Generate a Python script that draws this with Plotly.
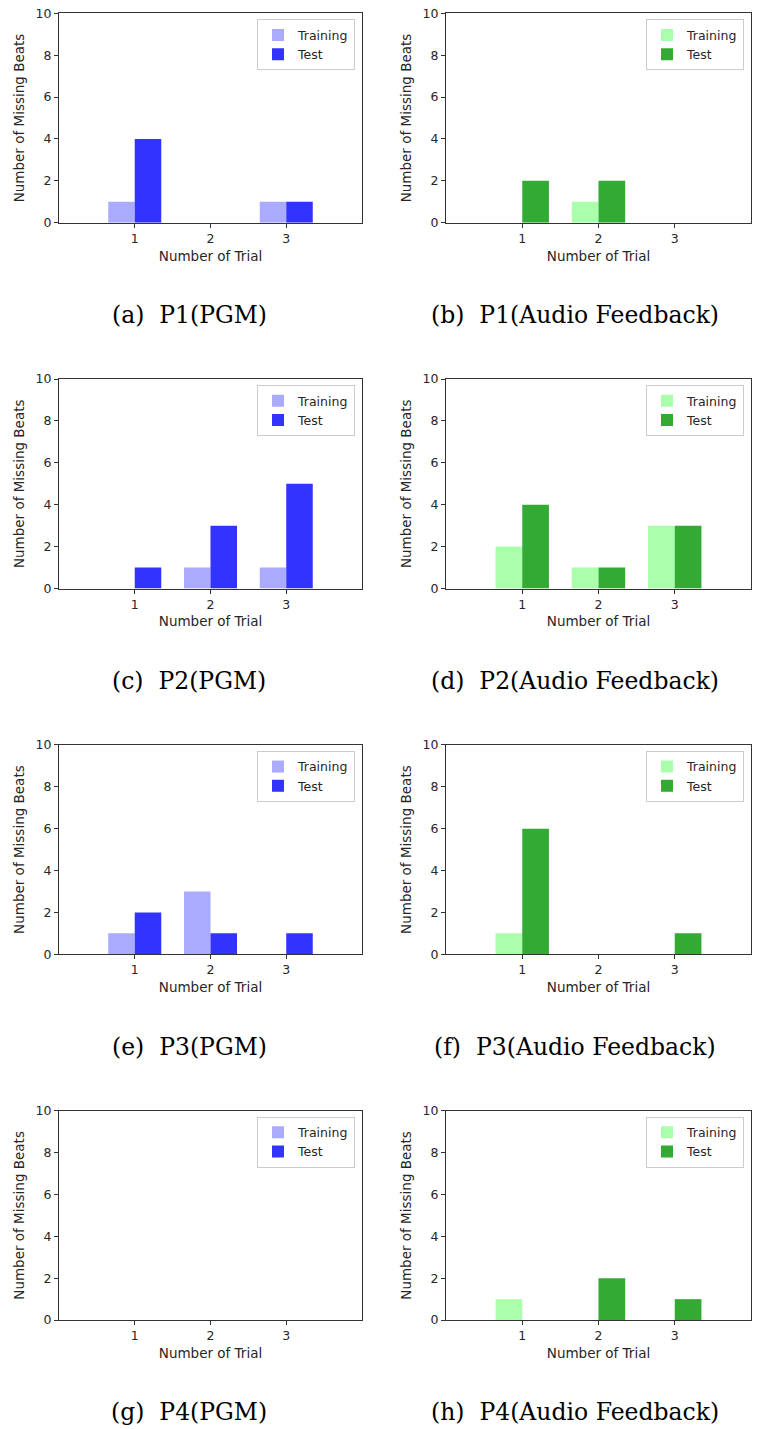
import plotly.graph_objects as go

# ---- data ----
trials = [1, 2, 3]

p1_pgm_training = [1, 0, 1]
p1_pgm_test = [4, 0, 1]
p1_audio_training = [0, 1, 0]
p1_audio_test = [2, 2, 0]

p2_pgm_training = [0, 1, 1]
p2_pgm_test = [1, 3, 5]
p2_audio_training = [2, 1, 3]
p2_audio_test = [4, 1, 3]

p3_pgm_training = [1, 3, 0]
p3_pgm_test = [2, 1, 1]
p3_audio_training = [1, 0, 0]
p3_audio_test = [6, 0, 1]

p4_pgm_training = [0, 0, 0]
p4_pgm_test = [0, 0, 0]
p4_audio_training = [1, 0, 0]
p4_audio_test = [0, 2, 1]

captions = [
    "(a)\u00a0 P1(PGM)", "(b)\u00a0 P1(Audio Feedback)",
    "(c)\u00a0 P2(PGM)", "(d)\u00a0 P2(Audio Feedback)",
    "(e)\u00a0 P3(PGM)", "(f)\u00a0 P3(Audio Feedback)",
    "(g)\u00a0 P4(PGM)", "(h)\u00a0 P4(Audio Feedback)",
]
y_ticks = [0, 2, 4, 6, 8, 10]
x_label = "Number of Trial"
y_label = "Number of Missing Beats"

panels = [
    (p1_pgm_training, p1_pgm_test, "pgm"),
    (p1_audio_training, p1_audio_test, "audio"),
    (p2_pgm_training, p2_pgm_test, "pgm"),
    (p2_audio_training, p2_audio_test, "audio"),
    (p3_pgm_training, p3_pgm_test, "pgm"),
    (p3_audio_training, p3_audio_test, "audio"),
    (p4_pgm_training, p4_pgm_test, "pgm"),
    (p4_audio_training, p4_audio_test, "audio"),
]

# ---- styling ----
W, H = 757, 1429
COLORS = {
    "pgm": ("#aaaaff", "#3333ff"),
    "audio": ("#aaffaa", "#33aa33"),
}
col_x = [(59, 362), (446, 751)]      # axes left/right in px
row_top0, row_step, row_h = 13.3, 365.8, 209.4
cap_x = [189, 575]
cap_y0 = 315
SANS = "DejaVu Sans"
TXT = "#262626"
LINE = "#333333"
FS = 12.5
FS_TITLE = 13.5

fig = go.Figure()
layout = dict(
    template="none",
    width=W, height=H, autosize=False,
    margin=dict(l=0, r=0, t=0, b=0, pad=0),
    paper_bgcolor="white", plot_bgcolor="white",
    barmode="group", bargap=0.3, bargroupgap=0,
    font=dict(family=SANS, size=FS, color=TXT),
    annotations=[],
)

for i, (train, test, kind) in enumerate(panels):
    r, c = divmod(i, 2)
    n = "" if i == 0 else str(i + 1)
    leg = "legend" if i == 0 else f"legend{i + 1}"
    light, dark = COLORS[kind]
    fig.add_trace(go.Bar(x=trials, y=train, name="Training", marker_color=light,
                         marker_line_width=0, xaxis="x" + n, yaxis="y" + n, legend=leg))
    fig.add_trace(go.Bar(x=trials, y=test, name="Test", marker_color=dark,
                         marker_line_width=0, xaxis="x" + n, yaxis="y" + n, legend=leg))

    left, right = col_x[c]
    top = row_top0 + r * row_step
    bottom = top + row_h
    xd = [left / W, right / W]
    yd = [1 - bottom / H, 1 - top / H]
    common = dict(showline=True, mirror=True, linecolor=LINE, linewidth=1,
                  showgrid=False, zeroline=False, ticks="outside", ticklen=4,
                  tickcolor=LINE, tickwidth=1, automargin=False,
                  tickfont=dict(family=SANS, size=FS, color=TXT))
    layout["xaxis" + n] = dict(domain=xd, anchor="y" + n, range=[0, 4],
                               tickmode="array", tickvals=trials,
                               title=dict(text=x_label, standoff=6,
                                          font=dict(family=SANS, size=FS_TITLE, color=TXT)),
                               **common)
    layout["yaxis" + n] = dict(domain=yd, anchor="x" + n, range=[0, 10],
                               tickmode="array", tickvals=y_ticks,
                               title=dict(text=y_label, standoff=7,
                                          font=dict(family=SANS, size=FS_TITLE, color=TXT)),
                               **common)
    layout[leg] = dict(x=(right - 7) / W, y=1 - (top + 6) / H,
                       xanchor="right", yanchor="top",
                       bgcolor="white", bordercolor="#cccccc", borderwidth=1,
                       font=dict(family=SANS, size=FS, color=TXT),
                       tracegroupgap=0)
    layout["annotations"].append(dict(
        text=captions[i], xref="paper", yref="paper",
        x=cap_x[c] / W, y=1 - (cap_y0 + r * row_step) / H,
        xanchor="center", yanchor="middle", showarrow=False,
        font=dict(family="DejaVu Serif", size=23.5, color="black")))

fig.update_layout(**layout)
fig.write_html(
    "out.html",
    config={"displayModeBar": False},
    post_script="document.body.style.margin='0';document.body.style.overflow='hidden';",
)
